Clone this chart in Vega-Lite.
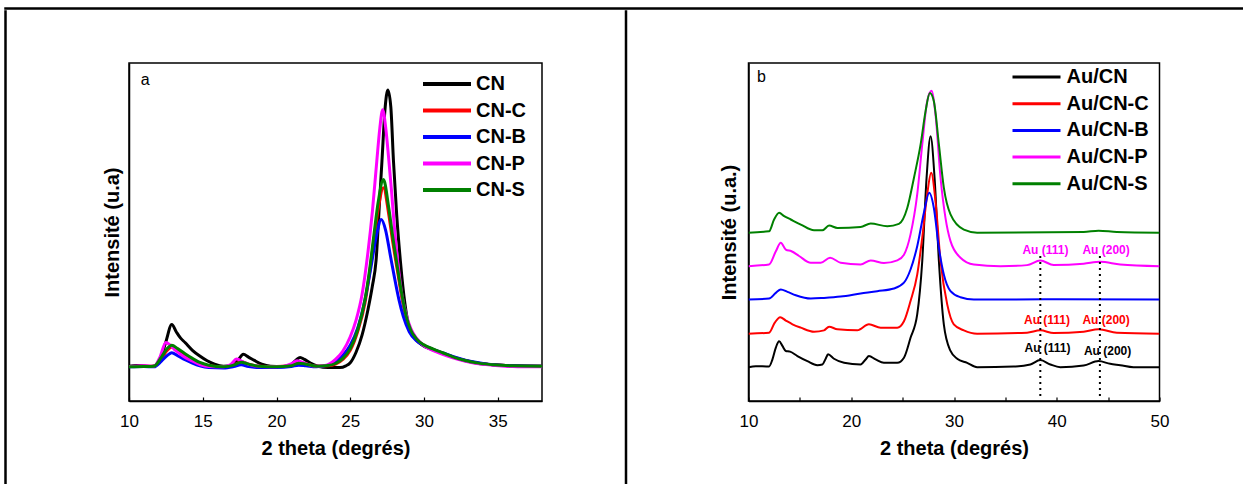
{
  "$schema": "https://vega.github.io/schema/vega-lite/v6.json",
  "padding": {"left": 4, "top": 7, "right": 0, "bottom": 0},
  "background": "white",
  "config": {
    "font": "Liberation Sans",
    "view": {"stroke": "black", "strokeWidth": 1.5},
    "axis": {"domainColor": "black", "domainWidth": 1.5, "tickColor": "black", "labelColor": "black", "titleColor": "black", "grid": false},
    "legend": {"padding": 0, "labelColor": "black"}
  },
  "datasets": {
    "a": [
      {"sample":"CN","angle":10.0,"intensity":10.3},{"sample":"CN","angle":10.5,"intensity":10.5},{"sample":"CN","angle":11.0,"intensity":10.4},{"sample":"CN","angle":11.5,"intensity":10.2},{"sample":"CN","angle":11.8,"intensity":10.6},{"sample":"CN","angle":12.2,"intensity":13.5},{"sample":"CN","angle":12.5,"intensity":17.5},{"sample":"CN","angle":12.9,"intensity":22.6},{"sample":"CN","angle":13.2,"intensity":20.5},{"sample":"CN","angle":13.5,"intensity":18.6},{"sample":"CN","angle":13.8,"intensity":17.3},{"sample":"CN","angle":14.3,"intensity":15.0},{"sample":"CN","angle":14.8,"intensity":13.3},{"sample":"CN","angle":15.3,"intensity":11.9},{"sample":"CN","angle":15.8,"intensity":10.9},{"sample":"CN","angle":16.4,"intensity":10.3},{"sample":"CN","angle":17.0,"intensity":10.5},{"sample":"CN","angle":17.4,"intensity":12.2},{"sample":"CN","angle":17.75,"intensity":13.8},{"sample":"CN","angle":18.1,"intensity":13.0},{"sample":"CN","angle":18.5,"intensity":12.0},{"sample":"CN","angle":19.0,"intensity":10.9},{"sample":"CN","angle":19.6,"intensity":10.3},{"sample":"CN","angle":20.4,"intensity":10.2},{"sample":"CN","angle":21.0,"intensity":10.8},{"sample":"CN","angle":21.35,"intensity":12.2},{"sample":"CN","angle":21.6,"intensity":12.9},{"sample":"CN","angle":21.9,"intensity":12.3},{"sample":"CN","angle":22.3,"intensity":11.2},{"sample":"CN","angle":22.8,"intensity":10.3},{"sample":"CN","angle":23.5,"intensity":9.9},{"sample":"CN","angle":24.3,"intensity":9.9},{"sample":"CN","angle":24.7,"intensity":10.4},{"sample":"CN","angle":25.0,"intensity":11.3},{"sample":"CN","angle":25.4,"intensity":14.5},{"sample":"CN","angle":25.8,"intensity":19.5},{"sample":"CN","angle":26.2,"intensity":27.0},{"sample":"CN","angle":26.5,"intensity":34.0},{"sample":"CN","angle":26.75,"intensity":41.5},{"sample":"CN","angle":27.0,"intensity":60.0},{"sample":"CN","angle":27.15,"intensity":71.0},{"sample":"CN","angle":27.35,"intensity":86.0},{"sample":"CN","angle":27.55,"intensity":92.0},{"sample":"CN","angle":27.75,"intensity":87.0},{"sample":"CN","angle":27.93,"intensity":71.0},{"sample":"CN","angle":28.15,"intensity":55.0},{"sample":"CN","angle":28.4,"intensity":41.4},{"sample":"CN","angle":28.7,"intensity":29.0},{"sample":"CN","angle":29.0,"intensity":21.7},{"sample":"CN","angle":29.4,"intensity":18.5},{"sample":"CN","angle":29.9,"intensity":16.5},{"sample":"CN","angle":30.5,"intensity":15.3},{"sample":"CN","angle":31.2,"intensity":14.2},{"sample":"CN","angle":32.0,"intensity":12.9},{"sample":"CN","angle":32.8,"intensity":11.9},{"sample":"CN","angle":33.7,"intensity":11.1},{"sample":"CN","angle":34.7,"intensity":10.7},{"sample":"CN","angle":36.0,"intensity":10.4},{"sample":"CN","angle":37.0,"intensity":10.3},{"sample":"CN","angle":38.0,"intensity":10.3},
      {"sample":"CN-C","angle":10.0,"intensity":10.2},{"sample":"CN-C","angle":11.0,"intensity":10.3},{"sample":"CN-C","angle":11.7,"intensity":10.3},{"sample":"CN-C","angle":12.2,"intensity":12.6},{"sample":"CN-C","angle":12.6,"intensity":15.0},{"sample":"CN-C","angle":12.9,"intensity":16.0},{"sample":"CN-C","angle":13.3,"intensity":14.9},{"sample":"CN-C","angle":13.8,"intensity":13.3},{"sample":"CN-C","angle":14.3,"intensity":12.0},{"sample":"CN-C","angle":14.8,"intensity":11.0},{"sample":"CN-C","angle":15.4,"intensity":10.4},{"sample":"CN-C","angle":16.4,"intensity":10.1},{"sample":"CN-C","angle":17.1,"intensity":10.6},{"sample":"CN-C","angle":17.6,"intensity":11.6},{"sample":"CN-C","angle":18.1,"intensity":10.9},{"sample":"CN-C","angle":18.8,"intensity":10.3},{"sample":"CN-C","angle":20.0,"intensity":10.2},{"sample":"CN-C","angle":21.0,"intensity":10.5},{"sample":"CN-C","angle":21.5,"intensity":11.4},{"sample":"CN-C","angle":22.0,"intensity":11.0},{"sample":"CN-C","angle":22.7,"intensity":10.3},{"sample":"CN-C","angle":23.5,"intensity":10.4},{"sample":"CN-C","angle":24.0,"intensity":10.9},{"sample":"CN-C","angle":24.5,"intensity":12.3},{"sample":"CN-C","angle":25.0,"intensity":15.0},{"sample":"CN-C","angle":25.5,"intensity":20.5},{"sample":"CN-C","angle":26.0,"intensity":29.0},{"sample":"CN-C","angle":26.3,"intensity":37.5},{"sample":"CN-C","angle":26.6,"intensity":47.5},{"sample":"CN-C","angle":26.9,"intensity":57.0},{"sample":"CN-C","angle":27.25,"intensity":63.1},{"sample":"CN-C","angle":27.6,"intensity":55.5},{"sample":"CN-C","angle":27.9,"intensity":46.5},{"sample":"CN-C","angle":28.2,"intensity":38.5},{"sample":"CN-C","angle":28.5,"intensity":30.5},{"sample":"CN-C","angle":28.8,"intensity":24.5},{"sample":"CN-C","angle":29.1,"intensity":20.8},{"sample":"CN-C","angle":29.5,"intensity":18.2},{"sample":"CN-C","angle":30.0,"intensity":16.5},{"sample":"CN-C","angle":30.6,"intensity":15.3},{"sample":"CN-C","angle":31.3,"intensity":14.1},{"sample":"CN-C","angle":32.0,"intensity":13.0},{"sample":"CN-C","angle":32.8,"intensity":12.0},{"sample":"CN-C","angle":33.7,"intensity":11.2},{"sample":"CN-C","angle":34.7,"intensity":10.7},{"sample":"CN-C","angle":36.0,"intensity":10.4},{"sample":"CN-C","angle":38.0,"intensity":10.3},
      {"sample":"CN-B","angle":10.0,"intensity":10.1},{"sample":"CN-B","angle":11.0,"intensity":10.2},{"sample":"CN-B","angle":11.7,"intensity":10.1},{"sample":"CN-B","angle":12.2,"intensity":11.8},{"sample":"CN-B","angle":12.6,"intensity":13.5},{"sample":"CN-B","angle":12.9,"intensity":14.3},{"sample":"CN-B","angle":13.3,"intensity":13.4},{"sample":"CN-B","angle":13.8,"intensity":12.2},{"sample":"CN-B","angle":14.3,"intensity":11.2},{"sample":"CN-B","angle":14.8,"intensity":10.4},{"sample":"CN-B","angle":15.4,"intensity":9.9},{"sample":"CN-B","angle":16.4,"intensity":9.8},{"sample":"CN-B","angle":17.1,"intensity":10.2},{"sample":"CN-B","angle":17.6,"intensity":10.7},{"sample":"CN-B","angle":18.1,"intensity":10.2},{"sample":"CN-B","angle":18.8,"intensity":9.9},{"sample":"CN-B","angle":20.0,"intensity":9.9},{"sample":"CN-B","angle":21.0,"intensity":10.2},{"sample":"CN-B","angle":21.5,"intensity":10.6},{"sample":"CN-B","angle":22.0,"intensity":10.4},{"sample":"CN-B","angle":22.7,"intensity":10.1},{"sample":"CN-B","angle":23.5,"intensity":10.6},{"sample":"CN-B","angle":24.0,"intensity":11.6},{"sample":"CN-B","angle":24.5,"intensity":13.5},{"sample":"CN-B","angle":25.0,"intensity":16.5},{"sample":"CN-B","angle":25.5,"intensity":21.5},{"sample":"CN-B","angle":26.0,"intensity":30.0},{"sample":"CN-B","angle":26.4,"intensity":39.5},{"sample":"CN-B","angle":26.8,"intensity":49.5},{"sample":"CN-B","angle":27.1,"intensity":53.7},{"sample":"CN-B","angle":27.4,"intensity":50.5},{"sample":"CN-B","angle":27.7,"intensity":43.5},{"sample":"CN-B","angle":28.0,"intensity":36.5},{"sample":"CN-B","angle":28.3,"intensity":30.0},{"sample":"CN-B","angle":28.6,"intensity":25.0},{"sample":"CN-B","angle":29.0,"intensity":20.5},{"sample":"CN-B","angle":29.5,"intensity":17.8},{"sample":"CN-B","angle":30.0,"intensity":16.4},{"sample":"CN-B","angle":30.6,"intensity":15.3},{"sample":"CN-B","angle":31.3,"intensity":14.2},{"sample":"CN-B","angle":32.0,"intensity":13.1},{"sample":"CN-B","angle":32.8,"intensity":12.1},{"sample":"CN-B","angle":33.7,"intensity":11.3},{"sample":"CN-B","angle":34.7,"intensity":10.7},{"sample":"CN-B","angle":36.0,"intensity":10.4},{"sample":"CN-B","angle":38.0,"intensity":10.3},
      {"sample":"CN-P","angle":10.0,"intensity":10.2},{"sample":"CN-P","angle":11.0,"intensity":10.4},{"sample":"CN-P","angle":11.7,"intensity":10.3},{"sample":"CN-P","angle":12.1,"intensity":13.0},{"sample":"CN-P","angle":12.5,"intensity":17.3},{"sample":"CN-P","angle":12.8,"intensity":16.5},{"sample":"CN-P","angle":13.2,"intensity":14.8},{"sample":"CN-P","angle":13.7,"intensity":13.2},{"sample":"CN-P","angle":14.2,"intensity":12.0},{"sample":"CN-P","angle":14.8,"intensity":10.8},{"sample":"CN-P","angle":15.4,"intensity":10.2},{"sample":"CN-P","angle":16.4,"intensity":10.1},{"sample":"CN-P","angle":16.9,"intensity":10.8},{"sample":"CN-P","angle":17.3,"intensity":12.4},{"sample":"CN-P","angle":17.8,"intensity":11.4},{"sample":"CN-P","angle":18.5,"intensity":10.4},{"sample":"CN-P","angle":19.5,"intensity":10.1},{"sample":"CN-P","angle":20.5,"intensity":10.3},{"sample":"CN-P","angle":21.0,"intensity":11.0},{"sample":"CN-P","angle":21.4,"intensity":11.9},{"sample":"CN-P","angle":21.9,"intensity":11.2},{"sample":"CN-P","angle":22.6,"intensity":10.3},{"sample":"CN-P","angle":23.3,"intensity":10.5},{"sample":"CN-P","angle":24.0,"intensity":12.3},{"sample":"CN-P","angle":24.5,"intensity":14.8},{"sample":"CN-P","angle":25.0,"intensity":19.0},{"sample":"CN-P","angle":25.4,"intensity":24.0},{"sample":"CN-P","angle":25.8,"intensity":31.5},{"sample":"CN-P","angle":26.2,"intensity":44.0},{"sample":"CN-P","angle":26.5,"intensity":56.0},{"sample":"CN-P","angle":26.8,"intensity":71.0},{"sample":"CN-P","angle":27.0,"intensity":80.5},{"sample":"CN-P","angle":27.2,"intensity":86.2},{"sample":"CN-P","angle":27.4,"intensity":81.0},{"sample":"CN-P","angle":27.6,"intensity":72.0},{"sample":"CN-P","angle":27.8,"intensity":62.0},{"sample":"CN-P","angle":28.0,"intensity":51.0},{"sample":"CN-P","angle":28.25,"intensity":40.0},{"sample":"CN-P","angle":28.5,"intensity":31.5},{"sample":"CN-P","angle":28.8,"intensity":25.5},{"sample":"CN-P","angle":29.1,"intensity":21.5},{"sample":"CN-P","angle":29.5,"intensity":18.5},{"sample":"CN-P","angle":30.0,"intensity":16.3},{"sample":"CN-P","angle":30.8,"intensity":14.6},{"sample":"CN-P","angle":31.5,"intensity":13.4},{"sample":"CN-P","angle":32.3,"intensity":12.3},{"sample":"CN-P","angle":33.2,"intensity":11.4},{"sample":"CN-P","angle":34.2,"intensity":10.8},{"sample":"CN-P","angle":35.5,"intensity":10.3},{"sample":"CN-P","angle":37.0,"intensity":10.1},{"sample":"CN-P","angle":38.0,"intensity":10.1},
      {"sample":"CN-S","angle":10.0,"intensity":10.1},{"sample":"CN-S","angle":11.0,"intensity":10.2},{"sample":"CN-S","angle":11.7,"intensity":10.3},{"sample":"CN-S","angle":12.2,"intensity":13.0},{"sample":"CN-S","angle":12.6,"intensity":15.6},{"sample":"CN-S","angle":12.9,"intensity":16.5},{"sample":"CN-S","angle":13.3,"intensity":15.5},{"sample":"CN-S","angle":13.8,"intensity":14.0},{"sample":"CN-S","angle":14.3,"intensity":12.6},{"sample":"CN-S","angle":14.8,"intensity":11.4},{"sample":"CN-S","angle":15.4,"intensity":10.6},{"sample":"CN-S","angle":16.4,"intensity":10.1},{"sample":"CN-S","angle":17.1,"intensity":10.6},{"sample":"CN-S","angle":17.6,"intensity":11.5},{"sample":"CN-S","angle":18.1,"intensity":10.9},{"sample":"CN-S","angle":18.8,"intensity":10.3},{"sample":"CN-S","angle":20.0,"intensity":10.1},{"sample":"CN-S","angle":21.0,"intensity":10.4},{"sample":"CN-S","angle":21.5,"intensity":11.2},{"sample":"CN-S","angle":22.0,"intensity":10.9},{"sample":"CN-S","angle":22.7,"intensity":10.3},{"sample":"CN-S","angle":23.5,"intensity":10.5},{"sample":"CN-S","angle":24.0,"intensity":11.1},{"sample":"CN-S","angle":24.5,"intensity":12.6},{"sample":"CN-S","angle":25.0,"intensity":15.5},{"sample":"CN-S","angle":25.5,"intensity":21.0},{"sample":"CN-S","angle":26.0,"intensity":30.0},{"sample":"CN-S","angle":26.3,"intensity":38.5},{"sample":"CN-S","angle":26.6,"intensity":49.0},{"sample":"CN-S","angle":26.9,"intensity":59.0},{"sample":"CN-S","angle":27.25,"intensity":65.5},{"sample":"CN-S","angle":27.6,"intensity":57.5},{"sample":"CN-S","angle":27.9,"intensity":48.0},{"sample":"CN-S","angle":28.2,"intensity":39.5},{"sample":"CN-S","angle":28.5,"intensity":31.5},{"sample":"CN-S","angle":28.8,"intensity":25.0},{"sample":"CN-S","angle":29.1,"intensity":21.0},{"sample":"CN-S","angle":29.5,"intensity":18.3},{"sample":"CN-S","angle":30.0,"intensity":16.6},{"sample":"CN-S","angle":30.6,"intensity":15.4},{"sample":"CN-S","angle":31.3,"intensity":14.2},{"sample":"CN-S","angle":32.0,"intensity":13.0},{"sample":"CN-S","angle":32.8,"intensity":12.0},{"sample":"CN-S","angle":33.7,"intensity":11.2},{"sample":"CN-S","angle":34.7,"intensity":10.7},{"sample":"CN-S","angle":36.0,"intensity":10.4},{"sample":"CN-S","angle":38.0,"intensity":10.3}
    ],
    "b": [
      {"sample":"Au/CN","angle":10.0,"intensity":10.0},{"sample":"Au/CN","angle":10.71,"intensity":10.3},{"sample":"Au/CN","angle":12.0,"intensity":10.2},{"sample":"Au/CN","angle":12.33,"intensity":12.3},{"sample":"Au/CN","angle":12.66,"intensity":15.8},{"sample":"Au/CN","angle":12.98,"intensity":17.7},{"sample":"Au/CN","angle":13.3,"intensity":16.3},{"sample":"Au/CN","angle":13.63,"intensity":14.8},{"sample":"Au/CN","angle":14.05,"intensity":14.6},{"sample":"Au/CN","angle":14.76,"intensity":13.3},{"sample":"Au/CN","angle":15.73,"intensity":11.8},{"sample":"Au/CN","angle":16.7,"intensity":10.6},{"sample":"Au/CN","angle":17.19,"intensity":10.8},{"sample":"Au/CN","angle":17.51,"intensity":12.5},{"sample":"Au/CN","angle":17.74,"intensity":13.8},{"sample":"Au/CN","angle":18.32,"intensity":12.5},{"sample":"Au/CN","angle":19.3,"intensity":11.3},{"sample":"Au/CN","angle":20.91,"intensity":10.8},{"sample":"Au/CN","angle":21.4,"intensity":12.3},{"sample":"Au/CN","angle":21.72,"intensity":13.3},{"sample":"Au/CN","angle":22.37,"intensity":12.3},{"sample":"Au/CN","angle":23.18,"intensity":11.3},{"sample":"Au/CN","angle":24.48,"intensity":11.3},{"sample":"Au/CN","angle":25.13,"intensity":12.8},{"sample":"Au/CN","angle":25.77,"intensity":18.7},{"sample":"Au/CN","angle":26.42,"intensity":25.6},{"sample":"Au/CN","angle":26.91,"intensity":41.4},{"sample":"Au/CN","angle":27.33,"intensity":66.0},{"sample":"Au/CN","angle":27.72,"intensity":78.3},{"sample":"Au/CN","angle":28.11,"intensity":66.0},{"sample":"Au/CN","angle":28.53,"intensity":41.4},{"sample":"Au/CN","angle":29.01,"intensity":22.7},{"sample":"Au/CN","angle":29.66,"intensity":14.8},{"sample":"Au/CN","angle":30.31,"intensity":12.5},{"sample":"Au/CN","angle":31.28,"intensity":11.3},{"sample":"Au/CN","angle":32.25,"intensity":10.0},{"sample":"Au/CN","angle":35.81,"intensity":10.2},{"sample":"Au/CN","angle":37.43,"intensity":10.8},{"sample":"Au/CN","angle":38.4,"intensity":12.1},{"sample":"Au/CN","angle":39.38,"intensity":10.8},{"sample":"Au/CN","angle":40.35,"intensity":10.0},{"sample":"Au/CN","angle":42.62,"intensity":10.5},{"sample":"Au/CN","angle":44.07,"intensity":11.8},{"sample":"Au/CN","angle":45.2,"intensity":11.0},{"sample":"Au/CN","angle":46.18,"intensity":10.6},{"sample":"Au/CN","angle":47.47,"intensity":10.0},{"sample":"Au/CN","angle":50.0,"intensity":10.0},
      {"sample":"Au/CN-C","angle":10.0,"intensity":19.9},{"sample":"Au/CN-C","angle":12.0,"intensity":20.2},{"sample":"Au/CN-C","angle":12.56,"intensity":23.2},{"sample":"Au/CN-C","angle":13.08,"intensity":24.8},{"sample":"Au/CN-C","angle":13.63,"intensity":23.8},{"sample":"Au/CN-C","angle":14.28,"intensity":22.7},{"sample":"Au/CN-C","angle":15.09,"intensity":21.7},{"sample":"Au/CN-C","angle":16.38,"intensity":20.5},{"sample":"Au/CN-C","angle":17.35,"intensity":20.9},{"sample":"Au/CN-C","angle":17.84,"intensity":22.0},{"sample":"Au/CN-C","angle":18.65,"intensity":21.2},{"sample":"Au/CN-C","angle":20.59,"intensity":20.9},{"sample":"Au/CN-C","angle":21.72,"intensity":22.7},{"sample":"Au/CN-C","angle":22.86,"intensity":21.7},{"sample":"Au/CN-C","angle":24.48,"intensity":21.7},{"sample":"Au/CN-C","angle":25.13,"intensity":23.6},{"sample":"Au/CN-C","angle":25.77,"intensity":29.6},{"sample":"Au/CN-C","angle":26.42,"intensity":37.4},{"sample":"Au/CN-C","angle":26.91,"intensity":48.3},{"sample":"Au/CN-C","angle":27.39,"intensity":61.1},{"sample":"Au/CN-C","angle":27.78,"intensity":67.5},{"sample":"Au/CN-C","angle":28.2,"intensity":59.1},{"sample":"Au/CN-C","angle":28.69,"intensity":41.4},{"sample":"Au/CN-C","angle":29.34,"intensity":28.6},{"sample":"Au/CN-C","angle":29.98,"intensity":22.7},{"sample":"Au/CN-C","angle":30.96,"intensity":20.9},{"sample":"Au/CN-C","angle":32.25,"intensity":19.9},{"sample":"Au/CN-C","angle":37.11,"intensity":20.2},{"sample":"Au/CN-C","angle":38.4,"intensity":20.9},{"sample":"Au/CN-C","angle":39.7,"intensity":20.1},{"sample":"Au/CN-C","angle":42.62,"intensity":20.5},{"sample":"Au/CN-C","angle":44.07,"intensity":21.2},{"sample":"Au/CN-C","angle":45.85,"intensity":20.2},{"sample":"Au/CN-C","angle":50.0,"intensity":19.9},
      {"sample":"Au/CN-B","angle":10.0,"intensity":30.0},{"sample":"Au/CN-B","angle":12.0,"intensity":30.3},{"sample":"Au/CN-B","angle":12.66,"intensity":32.0},{"sample":"Au/CN-B","angle":13.14,"intensity":33.0},{"sample":"Au/CN-B","angle":13.79,"intensity":32.3},{"sample":"Au/CN-B","angle":14.6,"intensity":31.3},{"sample":"Au/CN-B","angle":16.06,"intensity":30.3},{"sample":"Au/CN-B","angle":17.35,"intensity":30.5},{"sample":"Au/CN-B","angle":18.97,"intensity":30.9},{"sample":"Au/CN-B","angle":20.91,"intensity":31.8},{"sample":"Au/CN-B","angle":22.53,"intensity":32.5},{"sample":"Au/CN-B","angle":24.15,"intensity":33.3},{"sample":"Au/CN-B","angle":25.13,"intensity":35.0},{"sample":"Au/CN-B","angle":25.77,"intensity":38.9},{"sample":"Au/CN-B","angle":26.42,"intensity":45.8},{"sample":"Au/CN-B","angle":27.07,"intensity":55.7},{"sample":"Au/CN-B","angle":27.59,"intensity":61.6},{"sample":"Au/CN-B","angle":28.04,"intensity":57.1},{"sample":"Au/CN-B","angle":28.53,"intensity":45.3},{"sample":"Au/CN-B","angle":29.01,"intensity":37.4},{"sample":"Au/CN-B","angle":29.66,"intensity":32.5},{"sample":"Au/CN-B","angle":30.63,"intensity":30.7},{"sample":"Au/CN-B","angle":31.93,"intensity":30.0},{"sample":"Au/CN-B","angle":40.0,"intensity":30.1},{"sample":"Au/CN-B","angle":50.0,"intensity":30.0},
      {"sample":"Au/CN-P","angle":10.0,"intensity":39.9},{"sample":"Au/CN-P","angle":12.0,"intensity":40.4},{"sample":"Au/CN-P","angle":12.66,"intensity":44.3},{"sample":"Au/CN-P","angle":13.14,"intensity":46.8},{"sample":"Au/CN-P","angle":13.63,"intensity":44.8},{"sample":"Au/CN-P","angle":14.18,"intensity":44.3},{"sample":"Au/CN-P","angle":14.92,"intensity":42.9},{"sample":"Au/CN-P","angle":16.06,"intensity":40.9},{"sample":"Au/CN-P","angle":17.03,"intensity":40.9},{"sample":"Au/CN-P","angle":17.94,"intensity":42.4},{"sample":"Au/CN-P","angle":18.97,"intensity":40.9},{"sample":"Au/CN-P","angle":20.91,"intensity":40.4},{"sample":"Au/CN-P","angle":21.89,"intensity":41.6},{"sample":"Au/CN-P","angle":23.18,"intensity":40.8},{"sample":"Au/CN-P","angle":24.48,"intensity":41.6},{"sample":"Au/CN-P","angle":25.13,"intensity":43.3},{"sample":"Au/CN-P","angle":25.77,"intensity":49.3},{"sample":"Au/CN-P","angle":26.42,"intensity":61.1},{"sample":"Au/CN-P","angle":26.91,"intensity":75.9},{"sample":"Au/CN-P","angle":27.39,"intensity":88.7},{"sample":"Au/CN-P","angle":27.81,"intensity":91.8},{"sample":"Au/CN-P","angle":28.2,"intensity":84.7},{"sample":"Au/CN-P","angle":28.69,"intensity":66.0},{"sample":"Au/CN-P","angle":29.17,"intensity":54.2},{"sample":"Au/CN-P","angle":29.66,"intensity":47.3},{"sample":"Au/CN-P","angle":30.63,"intensity":42.4},{"sample":"Au/CN-P","angle":31.93,"intensity":40.4},{"sample":"Au/CN-P","angle":34.52,"intensity":39.9},{"sample":"Au/CN-P","angle":37.11,"intensity":40.2},{"sample":"Au/CN-P","angle":38.4,"intensity":41.6},{"sample":"Au/CN-P","angle":39.7,"intensity":40.2},{"sample":"Au/CN-P","angle":42.62,"intensity":40.6},{"sample":"Au/CN-P","angle":44.23,"intensity":41.2},{"sample":"Au/CN-P","angle":46.18,"intensity":40.4},{"sample":"Au/CN-P","angle":50.0,"intensity":39.9},
      {"sample":"Au/CN-S","angle":10.0,"intensity":49.8},{"sample":"Au/CN-S","angle":12.0,"intensity":50.2},{"sample":"Au/CN-S","angle":12.49,"intensity":53.7},{"sample":"Au/CN-S","angle":12.98,"intensity":55.7},{"sample":"Au/CN-S","angle":13.47,"intensity":54.7},{"sample":"Au/CN-S","angle":14.11,"intensity":53.7},{"sample":"Au/CN-S","angle":15.09,"intensity":52.2},{"sample":"Au/CN-S","angle":16.38,"intensity":50.5},{"sample":"Au/CN-S","angle":17.19,"intensity":50.5},{"sample":"Au/CN-S","angle":17.84,"intensity":51.9},{"sample":"Au/CN-S","angle":18.65,"intensity":51.2},{"sample":"Au/CN-S","angle":20.91,"intensity":51.5},{"sample":"Au/CN-S","angle":21.89,"intensity":52.5},{"sample":"Au/CN-S","angle":23.51,"intensity":51.7},{"sample":"Au/CN-S","angle":24.64,"intensity":52.4},{"sample":"Au/CN-S","angle":25.45,"intensity":57.1},{"sample":"Au/CN-S","angle":26.1,"intensity":66.0},{"sample":"Au/CN-S","angle":26.75,"intensity":75.9},{"sample":"Au/CN-S","angle":27.23,"intensity":85.7},{"sample":"Au/CN-S","angle":27.65,"intensity":91.1},{"sample":"Au/CN-S","angle":28.04,"intensity":88.7},{"sample":"Au/CN-S","angle":28.53,"intensity":75.9},{"sample":"Au/CN-S","angle":29.01,"intensity":63.1},{"sample":"Au/CN-S","angle":29.66,"intensity":55.2},{"sample":"Au/CN-S","angle":30.96,"intensity":50.7},{"sample":"Au/CN-S","angle":32.25,"intensity":49.8},{"sample":"Au/CN-S","angle":42.62,"intensity":50.0},{"sample":"Au/CN-S","angle":44.07,"intensity":50.4},{"sample":"Au/CN-S","angle":45.85,"intensity":50.0},{"sample":"Au/CN-S","angle":50.0,"intensity":49.8}
    ],
    "ann": [
      {"sample":"Au/CN-P","angle":38.9,"intensity":44.8,"label":"Au (111)"},
      {"sample":"Au/CN-P","angle":44.8,"intensity":44.8,"label":"Au (200)"},
      {"sample":"Au/CN-C","angle":39.05,"intensity":24.1,"label":"Au (111)"},
      {"sample":"Au/CN-C","angle":44.8,"intensity":24.1,"label":"Au (200)"},
      {"sample":"Au/CN","angle":39.1,"intensity":15.6,"label":"Au (111)"},
      {"sample":"Au/CN","angle":44.95,"intensity":14.8,"label":"Au (200)"}
    ],
    "marks": [
      {"angle":38.4,"lo":1.5,"hi":43.3},
      {"angle":44.2,"lo":1.5,"hi":43.3}
    ]
  },
  "resolve": {"scale": {"color": "independent"}},
  "spacing": 0,
  "vconcat": [
    {
      "width": 1239, "height": 1,
      "view": {"stroke": "black", "strokeWidth": 1.5},
      "data": {"values": []},
      "mark": {"type": "rule", "opacity": 0},
      "encoding": {}
    },
    {
      "spacing": 81.5,
      "resolve": {"scale": {"color": "independent"}},
      "hconcat": [
        {
          "spacing": 94,
          "resolve": {"scale": {"color": "independent"}},
          "hconcat": [
            {
              "width": 1, "height": 480,
              "view": {"stroke": "black", "strokeWidth": 1.5},
              "data": {"values": []},
              "mark": {"type": "rule", "opacity": 0},
              "encoding": {}
            },
            {
              "spacing": 0,
              "resolve": {"scale": {"color": "independent"}},
              "vconcat": [
                {
                  "width": 1, "height": 51,
                  "view": {"stroke": null},
                  "data": {"values": []},
                  "mark": {"type": "rule", "opacity": 0},
                  "encoding": {}
                },
                {
                  "width": 413, "height": 338,
                  "layer": [
                    {
                      "data": {"name": "a"},
                      "mark": {"type": "line", "strokeWidth": 3, "clip": true, "interpolate": "monotone"},
                      "encoding": {
                        "x": {"field": "angle", "type": "quantitative",
                          "scale": {"domain": [10, 38], "nice": false, "zero": false},
                          "axis": {"title": "2 theta (degrés)", "values": [10, 12.5, 15, 17.5, 20, 22.5, 25, 27.5, 30, 32.5, 35, 37.5],
                            "labelExpr": "datum.value % 5 === 0 ? datum.label : ''", "tickSize": -4, "tickWidth": 1.2,
                            "labelFontSize": 17, "labelPadding": 16, "labelFlush": false, "titleFontSize": 20, "titleFontWeight": "bold", "titlePadding": 9}},
                        "y": {"field": "intensity", "type": "quantitative",
                          "scale": {"domain": [0, 100], "nice": false},
                          "axis": {"title": "Intensité (u.a)", "labels": false, "ticks": false, "titleFontSize": 20, "titleFontWeight": "bold", "titlePadding": 7}},
                        "color": {"field": "sample", "type": "nominal",
                          "scale": {"domain": ["CN", "CN-C", "CN-B", "CN-P", "CN-S"], "range": ["#000000", "#ff0000", "#0000ff", "#ff00ff", "#008000"]},
                          "legend": {"orient": "none", "legendX": 308, "legendY": 11, "title": null, "symbolType": "M-3,0H3", "symbolSize": 256, "symbolStrokeWidth": 4, "labelFontSize": 20, "labelFontWeight": "bold", "labelOffset": 19, "rowPadding": 6.5}}
                      }
                    },
                    {
                      "data": {"values": [{"angle": 11.1, "intensity": 95, "label": "a"}]},
                      "mark": {"type": "text", "fontSize": 16, "align": "center", "baseline": "middle", "color": "black"},
                      "encoding": {
                        "x": {"field": "angle", "type": "quantitative"},
                        "y": {"field": "intensity", "type": "quantitative"},
                        "text": {"field": "label"}
                      }
                    }
                  ]
                }
              ]
            }
          ]
        },
        {
          "spacing": 91,
          "resolve": {"scale": {"color": "independent"}},
          "hconcat": [
            {
              "width": 1, "height": 480,
              "view": {"stroke": "black", "strokeWidth": 1.5},
              "data": {"values": []},
              "mark": {"type": "rule", "opacity": 0},
              "encoding": {}
            },
            {
              "spacing": 0,
              "resolve": {"scale": {"color": "independent"}},
              "vconcat": [
                {
                  "width": 1, "height": 51,
                  "view": {"stroke": null},
                  "data": {"values": []},
                  "mark": {"type": "rule", "opacity": 0},
                  "encoding": {}
                },
                {
                  "width": 411, "height": 338,
                  "layer": [
                    {
                      "data": {"name": "b"},
                      "mark": {"type": "line", "strokeWidth": 2, "clip": true, "interpolate": "monotone"},
                      "encoding": {
                        "x": {"field": "angle", "type": "quantitative",
                          "scale": {"domain": [10, 50], "nice": false, "zero": false},
                          "axis": {"title": "2 theta (degrés)", "values": [10, 15, 20, 25, 30, 35, 40, 45, 50],
                            "labelExpr": "datum.value % 10 === 0 ? datum.label : ''", "tickSize": -4, "tickWidth": 1.2,
                            "labelFontSize": 17, "labelPadding": 16, "labelFlush": false, "titleFontSize": 20, "titleFontWeight": "bold", "titlePadding": 9}},
                        "y": {"field": "intensity", "type": "quantitative",
                          "scale": {"domain": [0, 100], "nice": false},
                          "axis": {"title": "Intensité (u.a.)", "labels": false, "ticks": false, "titleFontSize": 20, "titleFontWeight": "bold", "titlePadding": 9}},
                        "color": {"field": "sample", "type": "nominal",
                          "scale": {"domain": ["Au/CN", "Au/CN-C", "Au/CN-B", "Au/CN-P", "Au/CN-S"], "range": ["#000000", "#ff0000", "#0000ff", "#ff00ff", "#008000"]},
                          "legend": {"orient": "none", "legendX": 278, "legendY": 4, "title": null, "symbolType": "M-3,0H3", "symbolSize": 256, "symbolStrokeWidth": 3, "labelFontSize": 20, "labelFontWeight": "bold", "labelOffset": 20, "rowPadding": 6.7}}
                      }
                    },
                    {
                      "data": {"name": "marks"},
                      "mark": {"type": "rule", "strokeDash": [2, 4], "strokeWidth": 2, "color": "black"},
                      "encoding": {
                        "x": {"field": "angle", "type": "quantitative"},
                        "y": {"field": "lo", "type": "quantitative"},
                        "y2": {"field": "hi"}
                      }
                    },
                    {
                      "data": {"name": "ann"},
                      "transform": [{"filter": "datum.sample === 'Au/CN-P'"}],
                      "mark": {"type": "text", "fontSize": 12, "fontWeight": "bold", "align": "center", "baseline": "middle", "color": "#ff00ff"},
                      "encoding": {
                        "x": {"field": "angle", "type": "quantitative"},
                        "y": {"field": "intensity", "type": "quantitative"},
                        "text": {"field": "label"}
                      }
                    },
                    {
                      "data": {"name": "ann"},
                      "transform": [{"filter": "datum.sample === 'Au/CN-C'"}],
                      "mark": {"type": "text", "fontSize": 12, "fontWeight": "bold", "align": "center", "baseline": "middle", "color": "#ff0000"},
                      "encoding": {
                        "x": {"field": "angle", "type": "quantitative"},
                        "y": {"field": "intensity", "type": "quantitative"},
                        "text": {"field": "label"}
                      }
                    },
                    {
                      "data": {"name": "ann"},
                      "transform": [{"filter": "datum.sample === 'Au/CN'"}],
                      "mark": {"type": "text", "fontSize": 12, "fontWeight": "bold", "align": "center", "baseline": "middle", "color": "#000000"},
                      "encoding": {
                        "x": {"field": "angle", "type": "quantitative"},
                        "y": {"field": "intensity", "type": "quantitative"},
                        "text": {"field": "label"}
                      }
                    },
                    {
                      "data": {"values": [{"angle": 11.27, "intensity": 95.9, "label": "b"}]},
                      "mark": {"type": "text", "fontSize": 16, "align": "center", "baseline": "middle", "color": "black"},
                      "encoding": {
                        "x": {"field": "angle", "type": "quantitative"},
                        "y": {"field": "intensity", "type": "quantitative"},
                        "text": {"field": "label"}
                      }
                    }
                  ]
                }
              ]
            }
          ]
        }
      ]
    }
  ]
}
